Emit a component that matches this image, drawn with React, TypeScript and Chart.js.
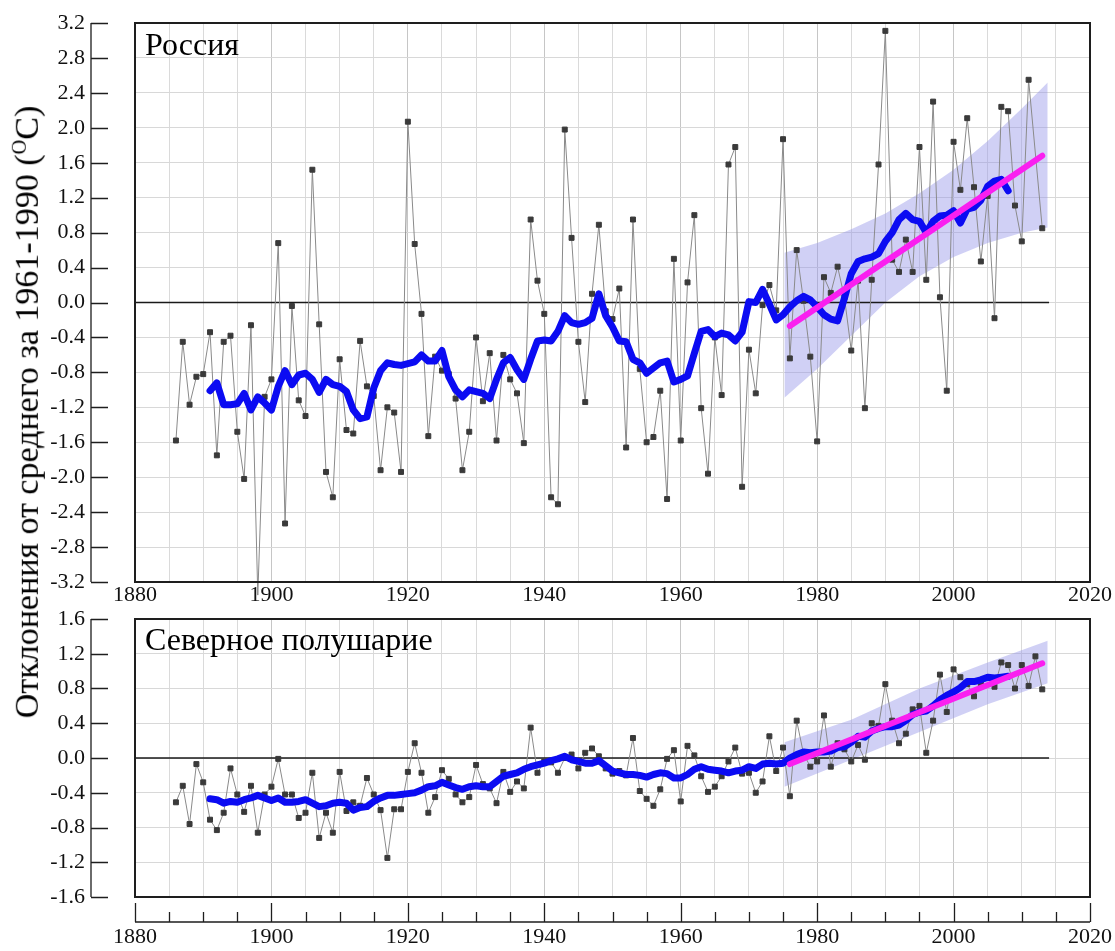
import React, { useEffect, useRef } from 'react';
import { Chart, registerables } from 'chart.js';

Chart.register(...registerables);

const SERIF = '"Liberation Serif", "Times New Roman", "DejaVu Serif", serif';

// Annual anomalies, first value is for 1886
const firstYear = 1886;
const russiaAnnual = [
  -1.58, -0.45, -1.17, -0.85, -0.82, -0.34, -1.75, -0.45, -0.38, -1.48,
  -2.02, -0.26, -3.35, -1.08, -0.88, 0.68, -2.53, -0.04, -1.12, -1.30,
  1.52, -0.25, -1.94, -2.23, -0.65, -1.46, -1.50, -0.44, -0.96, -1.07,
  -1.92, -1.20, -1.26, -1.94, 2.07, 0.67, -0.13, -1.53, -0.62, -0.78,
  -0.82, -1.10, -1.92, -1.48, -0.40, -1.13, -0.58, -1.58, -0.60, -0.88,
  -1.04, -1.61, 0.95, 0.25, -0.13, -2.23, -2.31, 1.98, 0.74, -0.45,
  -1.14, 0.10, 0.89, -0.10, -0.19, 0.16, -1.66, 0.95, -0.76, -1.60,
  -1.54, -1.01, -2.25, 0.50, -1.58, 0.23, 1.00, -1.21, -1.96, -0.40,
  -1.06, 1.58, 1.78, -2.11, -0.54, -1.04, -0.03, 0.20, -0.09, 1.87,
  -0.64, 0.60, 0.02, -0.62, -1.59, 0.29, 0.11, 0.41, 0.06, -0.55,
  0.25, -1.21, 0.26, 1.58, 3.11, 0.49, 0.35, 0.72, 0.35, 1.78,
  0.26, 2.30, 0.06, -1.01, 1.84, 1.29, 2.11, 1.32, 0.47, 1.22,
  -0.18, 2.24, 2.19, 1.11, 0.70, 2.55, null, 0.85,
];
const hemisphereAnnual = [
  -0.51, -0.32, -0.76, -0.07, -0.28, -0.71, -0.83, -0.63, -0.12, -0.42,
  -0.62, -0.32, -0.86, -0.42, -0.33, -0.01, -0.42, -0.42, -0.69, -0.63,
  -0.17, -0.92, -0.63, -0.86, -0.16, -0.61, -0.51, -0.55, -0.23, -0.42,
  -0.60, -1.15, -0.59, -0.59, -0.16, 0.17, -0.17, -0.63, -0.45, -0.14,
  -0.24, -0.42, -0.51, -0.45, -0.08, -0.30, -0.35, -0.52, -0.16, -0.39,
  -0.27, -0.35, 0.35, -0.17, -0.04, -0.05, -0.17, 0.00, 0.04, -0.12,
  0.06, 0.11, 0.02, -0.12, -0.18, -0.15, -0.20, 0.23, -0.38, -0.47,
  -0.55, -0.36, -0.01, 0.09, -0.50, 0.14, 0.03, -0.21, -0.39, -0.33,
  -0.21, -0.04, 0.12, -0.18, -0.17, -0.40, -0.27, 0.25, -0.15, 0.12,
  -0.44, 0.43, 0.05, -0.10, -0.04, 0.49, -0.10, 0.17, 0.10, -0.04,
  0.15, -0.02, 0.40, 0.37, 0.85, 0.43, 0.17, 0.28, 0.56, 0.60,
  0.06, 0.43, 0.96, 0.53, 1.02, 0.93, 0.85, 0.71, 0.85, 0.92,
  0.82, 1.10, 1.07, 0.80, 1.07, 0.83, 1.17, 0.79,
];

// 11-year running means, first value is for 1891
const smoothStart = 1891;
const russiaSmoothed = [
  -1.01, -0.92, -1.17, -1.17, -1.16, -1.04, -1.23, -1.08, -1.15, -1.23,
  -0.96, -0.78, -0.94, -0.83, -0.81, -0.88, -1.03, -0.88, -0.94, -0.96,
  -1.02, -1.23, -1.33, -1.31, -0.98, -0.78, -0.69, -0.71, -0.72, -0.70,
  -0.68, -0.60, -0.67, -0.67, -0.55, -0.85, -1.00, -1.08, -1.00, -1.02,
  -1.04, -1.10, -0.88, -0.69, -0.63, -0.77, -0.88, -0.65, -0.44, -0.43,
  -0.44, -0.33, -0.15, -0.23, -0.25, -0.23, -0.18, 0.10, -0.15, -0.28,
  -0.44, -0.45, -0.65, -0.69, -0.81, -0.75, -0.69, -0.67, -0.91, -0.88,
  -0.84, -0.58, -0.33, -0.31, -0.39, -0.35, -0.37, -0.44, -0.34, 0.01,
  0.00, 0.15, -0.02, -0.20, -0.14, -0.05, 0.02, 0.07, 0.03, -0.05,
  -0.14, -0.19, -0.21, 0.05, 0.33, 0.47, 0.50, 0.52, 0.56, 0.70,
  0.80, 0.95, 1.02, 0.95, 0.93, 0.80, 0.93, 0.99, 1.00, 1.05,
  0.91, 1.07, 1.09, 1.17, 1.33, 1.39, 1.41, 1.28,
];
const hemisphereSmoothed = [
  -0.47, -0.48, -0.52, -0.50, -0.51, -0.48, -0.46, -0.43, -0.46, -0.49,
  -0.46, -0.51, -0.51, -0.50, -0.48, -0.52, -0.56, -0.55, -0.52, -0.51,
  -0.52, -0.60, -0.57, -0.56, -0.50, -0.46, -0.43, -0.43, -0.42, -0.41,
  -0.40, -0.37, -0.33, -0.32, -0.28, -0.31, -0.34, -0.36, -0.33, -0.32,
  -0.33, -0.33, -0.27, -0.21, -0.19, -0.17, -0.13, -0.10, -0.08, -0.06,
  -0.03, -0.01, 0.02, -0.02, -0.04, -0.06, -0.06, -0.03, -0.09, -0.15,
  -0.17, -0.19, -0.19, -0.20, -0.22, -0.19, -0.17, -0.18, -0.23, -0.23,
  -0.19, -0.13, -0.10, -0.13, -0.14, -0.15, -0.17, -0.15, -0.14, -0.10,
  -0.12, -0.07, -0.06, -0.07, -0.06, 0.00, 0.04, 0.07, 0.06, 0.07,
  0.07, 0.08, 0.12, 0.13, 0.18, 0.25, 0.24, 0.31, 0.34, 0.36,
  0.36, 0.38, 0.43, 0.50, 0.53, 0.54, 0.60, 0.67, 0.72, 0.76,
  0.81, 0.88, 0.88, 0.90, 0.93, 0.92, 0.93, 0.94,
];

// Linear trends 1976-2013
const trendYears = [1976, 2013];
const russiaTrend = [-0.27, 1.68];
const hemisphereTrend = [-0.07, 1.09];

// Confidence bands around the trends
const russiaBandYears = [1975.2, 1980, 1985, 1990, 1995, 2000, 2005, 2010, 2013.8];
const russiaBandUpper = [0.57, 0.68, 0.84, 1.02, 1.25, 1.52, 1.85, 2.22, 2.52];
const russiaBandLower = [-1.09, -0.76, -0.38, 0.0, 0.3, 0.52, 0.68, 0.8, 0.86];
const hemisphereBandYears = [1975.2, 1985, 1995, 2005, 2013.8];
const hemisphereBandUpper = [0.18, 0.44, 0.8, 1.1, 1.35];
const hemisphereBandLower = [-0.33, -0.02, 0.3, 0.62, 0.86];

const zeroLineYears = [1880, 2014];
const zeroLineValues = [0, 0];

// Axis ticks
const xTickYears = [
  1880, 1885, 1890, 1895, 1900, 1905, 1910, 1915, 1920, 1925, 1930, 1935, 1940, 1945, 1950,
  1955, 1960, 1965, 1970, 1975, 1980, 1985, 1990, 1995, 2000, 2005, 2010, 2015, 2020,
];
const xLabelYears = [1880, 1900, 1920, 1940, 1960, 1980, 2000, 2020];
const russiaYTicks = [-3.2, -2.8, -2.4, -2.0, -1.6, -1.2, -0.8, -0.4, 0, 0.4, 0.8, 1.2, 1.6, 2.0, 2.4, 2.8, 3.2];
const russiaYLabels = ['-3.2', '-2.8', '-2.4', '-2.0', '-1.6', '-1.2', '-0.8', '-0.4', '0.0', '0.4', '0.8', '1.2', '1.6', '2.0', '2.4', '2.8', '3.2'];
const hemisphereYTicks = [-1.6, -1.2, -0.8, -0.4, 0, 0.4, 0.8, 1.2, 1.6];
const hemisphereYLabels = ['-1.6', '-1.2', '-0.8', '-0.4', '0.0', '0.4', '0.8', '1.2', '1.6'];

const series = (start: number, values: (number | null)[]) =>
  values.map((v, i) => ({ x: start + i, y: v }));
const pairs = (xs: number[], ys: number[]) => xs.map((x, i) => ({ x, y: ys[i] }));

// Frame around the plot area plus the detached axes with their tick marks
const axesPlugin = {
  id: 'detachedAxes',
  afterDraw(chart: any, _args: any, opts: any) {
    const { ctx, chartArea } = chart;
    const xs = chart.scales.x;
    const ys = chart.scales.y;
    ctx.save();
    ctx.strokeStyle = '#1e1e1e';
    ctx.lineWidth = 2;
    ctx.strokeRect(chartArea.left, chartArea.top, chartArea.right - chartArea.left, chartArea.bottom - chartArea.top);

    ctx.lineWidth = 1.3;
    const ax = opts.yAxisX;
    ctx.beginPath();
    ctx.moveTo(ax, ys.getPixelForValue(ys.max));
    ctx.lineTo(ax, ys.getPixelForValue(ys.min));
    for (const t of ys.ticks) {
      const py = Math.round(ys.getPixelForValue(t.value)) + 0.5;
      ctx.moveTo(ax, py);
      ctx.lineTo(opts.yTickEnd, py);
    }
    ctx.stroke();

    if (opts.xAxisY) {
      const ay = opts.xAxisY;
      ctx.beginPath();
      ctx.moveTo(xs.getPixelForValue(xs.min), ay);
      ctx.lineTo(xs.getPixelForValue(xs.max), ay);
      for (const t of xs.ticks) {
        const px = Math.round(xs.getPixelForValue(t.value)) + 0.5;
        const major = xLabelYears.includes(t.value);
        ctx.moveTo(px, ay);
        ctx.lineTo(px, ay - (major ? 19 : 10));
      }
      ctx.stroke();
    }
    ctx.restore();
  },
};

type PanelSpec = {
  annual: (number | null)[];
  smoothed: number[];
  trend: number[];
  bandYears: number[];
  bandUpper: number[];
  bandLower: number[];
  yMin: number;
  yMax: number;
  yTicks: number[];
  yLabels: string[];
  padTop: number;
  xHeight: number;
  xPad: number;
  xAxisY: number | null;
};

function buildConfig(p: PanelSpec): any {
  return {
    type: 'line',
    data: {
      datasets: [
        {
          data: pairs(trendYears, p.trend),
          borderColor: '#fa1ff0',
          borderWidth: 6,
          borderCapStyle: 'round',
          pointRadius: 0,
          fill: false,
        },
        {
          data: series(smoothStart, p.smoothed),
          borderColor: '#0b0bf2',
          borderWidth: 7,
          borderCapStyle: 'round',
          borderJoinStyle: 'round',
          pointRadius: 0,
          fill: false,
        },
        {
          data: series(firstYear, p.annual),
          borderColor: '#8a8a8a',
          borderWidth: 1,
          pointStyle: 'rect',
          pointRadius: 3.5,
          pointBorderWidth: 1,
          pointBackgroundColor: '#3a3a3a',
          pointBorderColor: '#3a3a3a',
          spanGaps: true,
          clip: false,
          fill: false,
        },
        {
          data: pairs(zeroLineYears, zeroLineValues),
          borderColor: '#1a1a1a',
          borderWidth: 1.6,
          pointRadius: 0,
          fill: false,
        },
        {
          data: pairs(p.bandYears, p.bandUpper),
          borderWidth: 0,
          borderColor: 'rgba(0,0,0,0)',
          pointRadius: 0,
          fill: '+1',
          backgroundColor: 'rgba(150,150,232,0.45)',
        },
        {
          data: pairs(p.bandYears, p.bandLower),
          borderWidth: 0,
          borderColor: 'rgba(0,0,0,0)',
          pointRadius: 0,
          fill: false,
        },
      ],
    },
    options: {
      responsive: false,
      animation: false,
      events: [],
      layout: { padding: { top: p.padTop, right: 25, left: 0, bottom: 0 } },
      plugins: {
        legend: { display: false },
        tooltip: { enabled: false },
        detachedAxes: { yAxisX: 91, yTickEnd: 108, xAxisY: p.xAxisY },
      },
      scales: {
        x: {
          type: 'linear',
          min: 1880,
          max: 2020,
          afterBuildTicks: (s: any) => {
            s.ticks = xTickYears.map((v) => ({ value: v }));
          },
          afterFit: (s: any) => {
            s.height = p.xHeight;
            s.paddingLeft = 0;
            s.paddingRight = 0;
          },
          ticks: {
            autoSkip: false,
            maxRotation: 0,
            padding: p.xPad,
            color: '#111',
            font: { family: SERIF, size: 22 },
            callback: (v: number) => (xLabelYears.includes(v) ? String(v) : ''),
          },
          grid: {
            drawTicks: false,
            lineWidth: 1,
            color: (c: any) => (c.tick && c.tick.value % 20 === 0 ? '#c6c6c6' : '#dadada'),
          },
          border: { display: false },
        },
        y: {
          type: 'linear',
          min: p.yMin,
          max: p.yMax,
          afterBuildTicks: (s: any) => {
            s.ticks = p.yTicks.map((v) => ({ value: v }));
          },
          afterFit: (s: any) => {
            s.width = 135;
            s.paddingTop = 0;
            s.paddingBottom = 0;
          },
          ticks: {
            padding: 50,
            color: '#111',
            font: { family: SERIF, size: 22 },
            callback: (_v: number, i: number) => p.yLabels[i],
          },
          grid: { drawTicks: false, lineWidth: 1, color: '#d8d8d8' },
          border: { display: false },
        },
      },
    },
    plugins: [axesPlugin],
  };
}

function Panel({ spec, top, height }: { spec: PanelSpec; top: number; height: number }) {
  const ref = useRef<HTMLCanvasElement | null>(null);
  useEffect(() => {
    if (!ref.current) return;
    const chart = new Chart(ref.current, buildConfig(spec));
    return () => chart.destroy();
  }, [spec]);
  return (
    <canvas
      ref={ref}
      width={1115}
      height={height}
      style={{ position: 'absolute', left: 0, top, width: 1115, height }}
    />
  );
}

const russiaSpec: PanelSpec = {
  annual: russiaAnnual,
  smoothed: russiaSmoothed,
  trend: russiaTrend,
  bandYears: russiaBandYears,
  bandUpper: russiaBandUpper,
  bandLower: russiaBandLower,
  yMin: -3.2,
  yMax: 3.2,
  yTicks: russiaYTicks,
  yLabels: russiaYLabels,
  padTop: 23,
  xHeight: 33,
  xPad: 0,
  xAxisY: null,
};

const hemisphereSpec: PanelSpec = {
  annual: hemisphereAnnual,
  smoothed: hemisphereSmoothed,
  trend: hemisphereTrend,
  bandYears: hemisphereBandYears,
  bandUpper: hemisphereBandUpper,
  bandLower: hemisphereBandLower,
  yMin: -1.6,
  yMax: 1.6,
  yTicks: hemisphereYTicks,
  yLabels: hemisphereYLabels,
  padTop: 19,
  xHeight: 54,
  xPad: 27,
  xAxisY: 322,
};

const titleStyle: React.CSSProperties = {
  position: 'absolute',
  left: 145,
  fontFamily: SERIF,
  fontSize: 32,
  lineHeight: '32px',
  color: '#000',
  whiteSpace: 'nowrap',
};

export default function App() {
  return (
    <div
      style={{
        position: 'fixed',
        left: 0,
        top: 0,
        width: 1115,
        height: 951,
        background: '#fff',
        overflow: 'hidden',
      }}
    >
      <Panel spec={russiaSpec} top={0} height={615} />
      <Panel spec={hemisphereSpec} top={600} height={351} />
      <div style={{ ...titleStyle, top: 28 }}>Россия</div>
      <div style={{ ...titleStyle, top: 623 }}>Северное полушарие</div>
      <div
        style={{
          position: 'absolute',
          left: 23,
          top: 412,
          transform: 'translate(-50%, -50%) rotate(-90deg)',
          fontFamily: SERIF,
          fontSize: 34,
          lineHeight: '36px',
          whiteSpace: 'nowrap',
          color: '#000',
        }}
      >
        Отклонения от среднего за 1961-1990 (<sup style={{ fontSize: '0.6em' }}>O</sup>C)
      </div>
    </div>
  );
}
